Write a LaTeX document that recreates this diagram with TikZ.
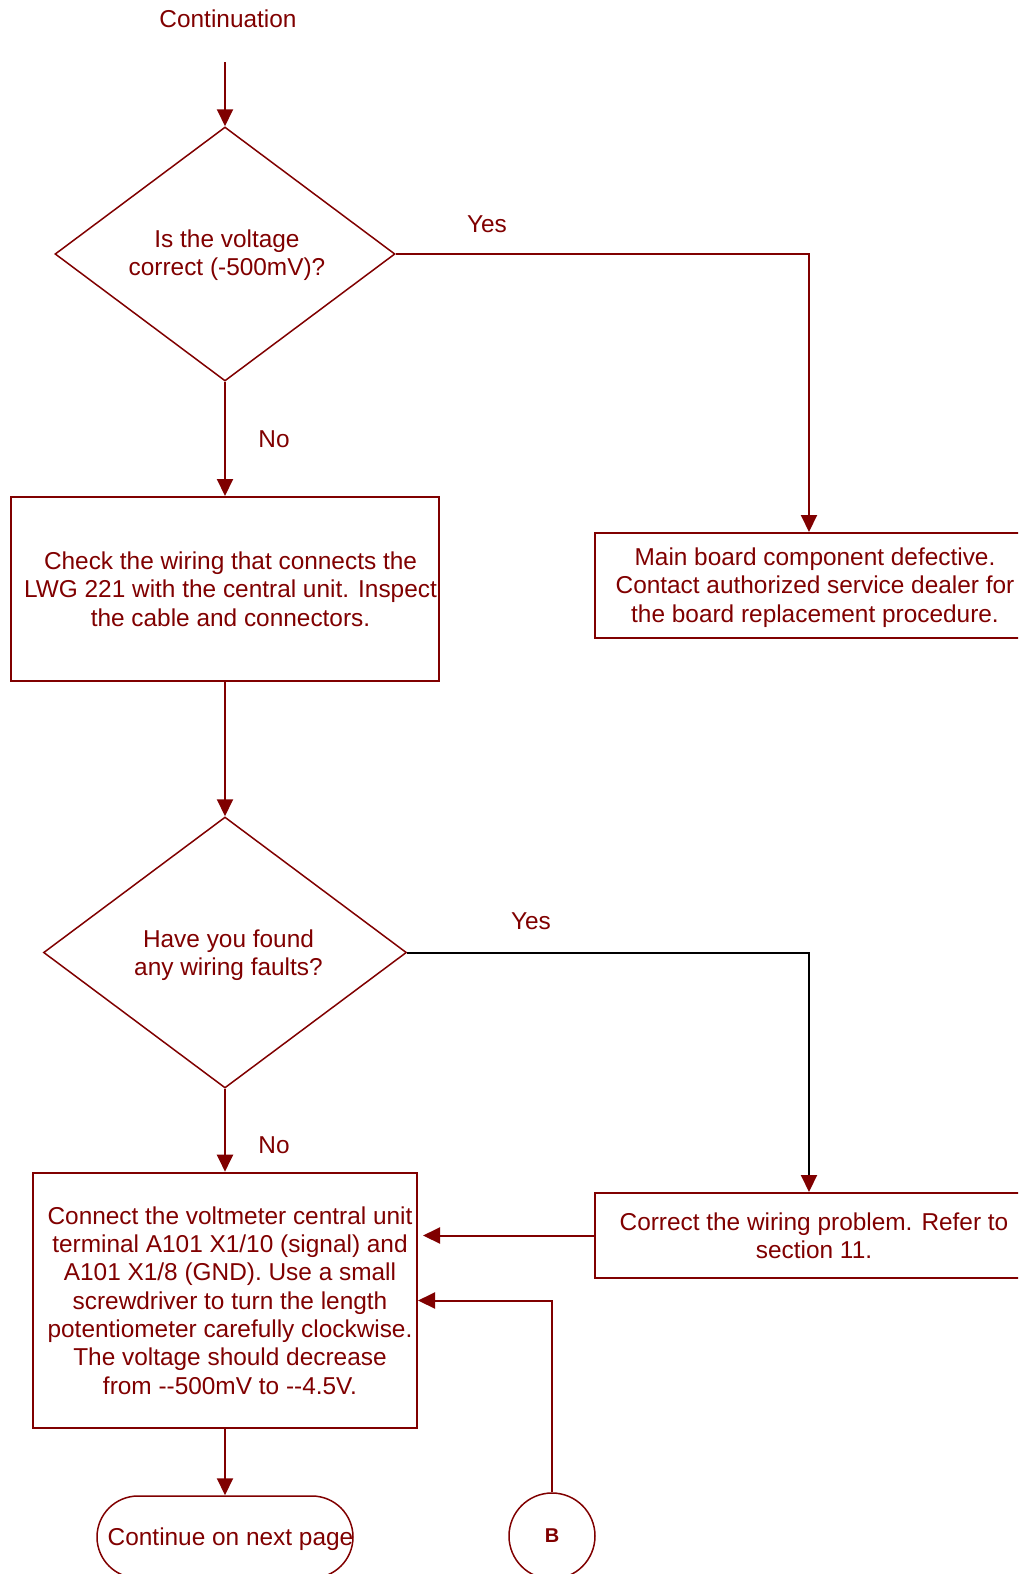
\documentclass[tikz,border=0pt]{standalone}
\usepackage{fontspec}
\setmainfont{Liberation Sans}
\usetikzlibrary{arrows.meta,shapes.geometric,shapes.misc}
\definecolor{maroonline}{RGB}{128,0,0}
\begin{document}
\begin{tikzpicture}[x=1pt,y=-1pt,
  every node/.style={text=maroonline, font=\fontsize{24.4}{28.3}\selectfont},
  box/.style={draw=maroonline, line width=2pt, rectangle, inner sep=0pt},
  boxtext/.style={align=center, inner sep=0pt},
  decision/.style={draw=maroonline, line width=1.5pt, diamond, inner sep=0pt},
  terminal/.style={draw=maroonline, line width=1.5pt, inner sep=0pt},
  flow/.style={draw=maroonline, line width=2pt, -{Triangle[length=17pt,width=16pt]}},
  plainflow/.style={draw=black, line width=2pt, -{Triangle[length=17pt,width=16pt,color=maroonline]}},
]
\useasboundingbox (0,0) rectangle (1018,1574);
\clip (0,0) rectangle (1018,1574);

% entry
\node (title) at (228,19) {Continuation};
\coordinate (start) at (225,62);

% first decision
\node[decision, minimum width=340pt, minimum height=254pt,
  label={[boxtext, xshift=2pt, yshift=-1pt]center:{Is the voltage\\correct (-500mV)?}}]
  (volt) at (225,254) {};

\node[box, minimum width=428pt, minimum height=105pt,
  label={[boxtext, xshift=6pt, yshift=-2pt]center:{Main board component defective.\\Contact authorized service dealer for\\the board replacement procedure.}}]
  (board) at (809,585.5) {};

\node[box, minimum width=428pt, minimum height=184pt,
  label={[boxtext, xshift=5.5pt]center:{Check the wiring that connects the\\LWG 221 with the central unit. Inspect\\the cable and connectors.}}]
  (wiring) at (225,589) {};

% second decision
\node[decision, minimum width=363pt, minimum height=271pt,
  label={[boxtext, xshift=3.5pt, yshift=-3pt]center:{Have you found\\any wiring faults?}}]
  (faults) at (225,952.5) {};

\node[box, minimum width=428pt, minimum height=85pt,
  label={[boxtext, xshift=5pt]center:{Correct the wiring problem. Refer to\\section 11.}}]
  (fix) at (809,1235.5) {};

\node[box, minimum width=384pt, minimum height=255.6pt,
  label={[boxtext, xshift=5pt]center:{Connect the voltmeter central unit\\terminal A101 X1/10 (signal) and\\A101 X1/8 (GND). Use a small\\screwdriver to turn the length\\potentiometer carefully clockwise.\\The voltage should decrease\\from -\kern0pt-500mV to -\kern0pt-4.5V.}}]
  (meter) at (225,1300.5) {};

% exits
\node[terminal, rounded rectangle, minimum width=256pt, minimum height=82pt,
  label={[boxtext, xshift=5.5pt, yshift=-2pt]center:{Continue on next page}}]
  (next) at (225,1537) {};
\node[terminal, circle, minimum size=86pt, font=\fontsize{20}{22}\selectfont\bfseries]
  (B) at (552,1536) {B};

% answer labels
\node (yes1) at (487,224) {Yes};
\node (no1) at (274,439) {No};
\node (yes2) at (531,921) {Yes};
\node (no2) at (274,1145) {No};

% connectors
\draw[flow] (start) -- (volt.north);
\draw[flow] (volt.south) -- (wiring.north);
\draw[flow] (volt.east) -| (board.north);
\draw[flow] (wiring.south) -- (faults.north);
\draw[plainflow] (faults.east) -| (fix.north);
\draw[flow] (faults.south) -- (meter.north);
\draw[flow] (fix.west) -- ([xshift=5pt]meter.east |- fix.west);
\draw[flow] (B.north) |- (meter.east);
\draw[flow] (meter.south) -- (next.north);
\end{tikzpicture}
\end{document}
